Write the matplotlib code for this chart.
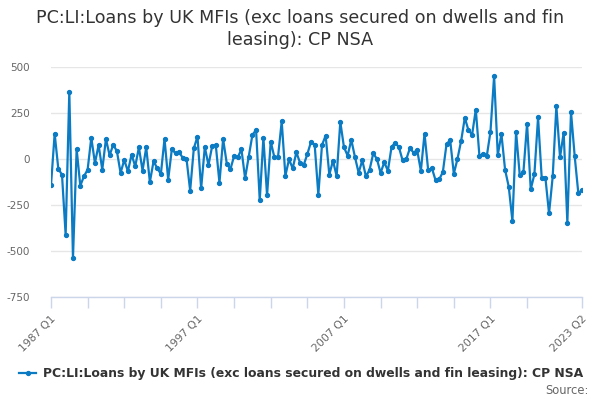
import matplotlib
matplotlib.use("Agg")
import matplotlib.pyplot as plt

# quarterly values, 1987 Q1 .. 2023 Q2
values = [
    -143, 138, -54, -85, -413, 366, -540, 54, -145, -94,
    -58, 116, -22, 76, -58, 109, 20, 78, 42, -76,
    -5, -67, 24, -40, 63, -63, 63, -125, -13, -49,
    -82, 110, -112, 54, 30, 36, 6, 1, -172, 58,
    122, -160, 65, -33, 69, 75, -129, 109, -25, -55,
    16, 9, 53, -104, 13, 131, 158, -224, 116, -198,
    95, 9, 13, 205, -91, -2, -51, 36, -20, -33,
    27, 93, 78, -194, 76, 127, -85, -9, -93, 202,
    64, 18, 104, 11, -75, -7, -95, -58, 31, 0,
    -76, -18, -64, 67, 87, 65, -7, -2, 58, 35,
    47, -64, 138, -62, -49, -115, -111, -71, 80, 103,
    -80, 1, 99, 224, 156, 133, 269, 14, 29, 16,
    147, 451, 22, 135, -59, -151, -337, 147, -88, -72,
    192, -165, -83, 226, -104, -101, -296, -95, 287, 9,
    144, -346, 255, 16, -187, -167,
]
quarters = [f"{1987 + i // 4} Q{i % 4 + 1}" for i in range(len(values))]
labelled = ["1987 Q1", "1997 Q1", "2007 Q1", "2017 Q1", "2023 Q2"]
y_ticks = [-750, -500, -250, 0, 250, 500]

title = "PC:LI:Loans by UK MFIs (exc loans secured on dwells and fin leasing): CP NSA"
LINE = "#0b7bc3"
GREY = "#666666"

fig = plt.figure(figsize=(6, 4), dpi=100)
ax = fig.add_axes([51 / 600, 103 / 400, 531 / 600, 230 / 400])

x = list(range(len(values)))
ax.plot(x, values, color=LINE, linewidth=1.6, marker="o", markersize=2.8,
        label=title)

ax.set_xlim(0, len(values) - 1)
ax.set_ylim(-750, 500)
ax.set_yticks(y_ticks)
ax.set_yticklabels([str(v) for v in y_ticks])
ax.yaxis.grid(True, color="#e6e6e6", linewidth=1)
ax.set_axisbelow(True)
ax.tick_params(axis="y", length=0, labelsize=7.5, labelcolor=GREY, pad=15)

# ticks every 10 quarters plus the last one, labels only on a few
tick_pos = list(range(0, len(values), 10))[:-1] + [len(values) - 1]
ax.set_xticks(tick_pos)
ax.set_xticklabels([quarters[i] if quarters[i] in labelled else "" for i in tick_pos],
                   rotation=45, ha="right", rotation_mode="anchor")
ax.tick_params(axis="x", length=8, width=1, color="#ccd6eb", labelsize=7.8,
               labelcolor=GREY, pad=4)

for s in ["top", "right", "left"]:
    ax.spines[s].set_visible(False)
ax.spines["bottom"].set_color("#ccd6eb")
ax.spines["bottom"].set_linewidth(1)

fig.text(0.5, 1 - 18 / 400, "PC:LI:Loans by UK MFIs (exc loans secured on dwells and fin",
         ha="center", va="center", fontsize=12.6, color="#333333")
fig.text(0.5, 1 - 40 / 400, "leasing): CP NSA",
         ha="center", va="center", fontsize=12.6, color="#333333")

leg = fig.legend(loc="center left", bbox_to_anchor=(8 / 600, 1 - 374 / 400),
                 frameon=False, handlelength=1.4, handletextpad=0.5,
                 prop={"weight": "bold", "size": 8.9})
for t in leg.get_texts():
    t.set_color("#333333")

fig.text(589 / 600, 1 - 390 / 400, "Source:", ha="right", va="center",
         fontsize=8.3, color=GREY)

fig.savefig("out.png", dpi=100, facecolor="white")
